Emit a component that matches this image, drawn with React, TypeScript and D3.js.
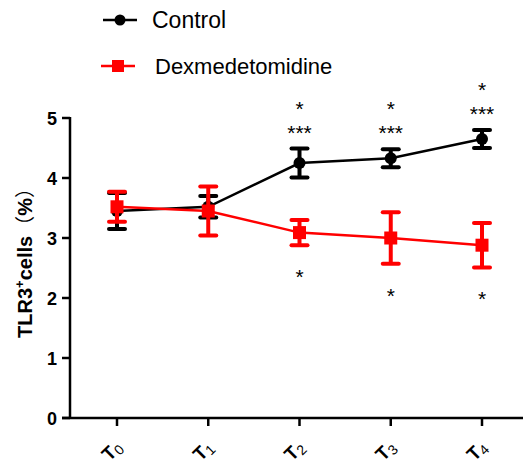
import React from "react";
import * as d3 from "d3";

const categories = ["0", "1", "2", "3", "4"];
const controlMean = [3.45, 3.52, 4.25, 4.33, 4.65];
const controlErr = [0.3, 0.18, 0.24, 0.15, 0.15];
const dexMean = [3.52, 3.45, 3.09, 3.0, 2.88];
const dexErr = [0.25, 0.41, 0.21, 0.43, 0.37];
const controlStars = ["", "", "*", "*", "*"];
const controlStars2 = ["", "", "***", "***", "***"];
const dexStars = ["", "", "*", "*", "*"];
const yTicks = [0, 1, 2, 3, 4, 5];

const W = 524;
const H = 464;

export default function App() {
  const x = d3.scalePoint<string>().domain(categories).range([117, 482]);
  const y = d3.scaleLinear().domain([0, 5]).range([418, 118]);
  const line = d3
    .line<number>()
    .x((_, i) => x(categories[i]) as number)
    .y((d) => y(d));
  const font = "Liberation Sans, Arial, sans-serif";

  const errBars = (means: number[], errs: number[], color: string) =>
    means.map((m, i) => {
      const cx = x(categories[i]) as number;
      const y1 = y(m + errs[i]);
      const y2 = y(m - errs[i]);
      return (
        <g key={i} stroke={color} strokeWidth={4}>
          <line x1={cx} x2={cx} y1={y1} y2={y2} />
          <line x1={cx - 8} x2={cx + 8} y1={y1} y2={y1} strokeLinecap="round" />
          <line x1={cx - 8} x2={cx + 8} y1={y2} y2={y2} strokeLinecap="round" />
        </g>
      );
    });

  return (
    <svg width={W} height={H} style={{ position: "absolute", left: 0, top: 0 }} fontFamily={font}>
      <rect width={W} height={H} fill="#fff" />
      {/* Legend */}
      <g>
        <line x1={103} x2={137} y1={20} y2={20} stroke="#000" strokeWidth={2.5} />
        <circle cx={120} cy={20} r={5.5} fill="#000" />
        <text x={152} y={28} fontSize={23}>Control</text>
        <line x1={101} x2={135} y1={66} y2={66} stroke="red" strokeWidth={2.5} />
        <rect x={112} y={60} width={12} height={12} fill="red" />
        <text x={155} y={74} fontSize={22}>Dexmedetomidine</text>
      </g>
      {/* Axes */}
      <line x1={70} x2={70} y1={117} y2={419} stroke="#000" strokeWidth={2.5} />
      <line x1={62} x2={523} y1={418} y2={418} stroke="#000" strokeWidth={2.5} />
      {yTicks.map((t) => (
        <g key={t}>
          <line x1={62} x2={70} y1={y(t)} y2={y(t)} stroke="#000" strokeWidth={2.5} />
          <text x={57} y={y(t) + 6.5} fontSize={18} fontWeight="bold" textAnchor="end">
            {t}
          </text>
        </g>
      ))}
      {categories.map((c) => {
        const cx = x(c) as number;
        return (
          <g key={c}>
            <line x1={cx} x2={cx} y1={418} y2={426} stroke="#000" strokeWidth={2.5} />
            <g transform={`translate(${cx - 5},${451}) rotate(-45)`}>
              <text x={0} y={6} fontSize={19} fontWeight="bold" textAnchor="middle">
                T<tspan fontSize={14} fontWeight="normal" dy={3}>{c}</tspan>
              </text>
            </g>
          </g>
        );
      })}
      <text
        transform="translate(32,258) rotate(-90)"
        fontSize={20}
        fontWeight="bold"
        textAnchor="middle"
      >
        TLR3<tspan fontSize={13} dy={-8}>+</tspan>
        <tspan dy={8}>cells</tspan>
        <tspan fontWeight="normal" fontFamily="Noto Sans CJK SC">（</tspan>
        <tspan>%</tspan>
        <tspan fontWeight="normal" fontFamily="Noto Sans CJK SC">）</tspan>
      </text>
      {/* Control series */}
      <path d={line(controlMean) ?? ""} fill="none" stroke="#000" strokeWidth={2.5} />
      {errBars(controlMean, controlErr, "#000")}
      {controlMean.map((m, i) => (
        <circle key={i} cx={x(categories[i]) as number} cy={y(m)} r={6} fill="#000" />
      ))}
      {/* Dex series */}
      <path d={line(dexMean) ?? ""} fill="none" stroke="red" strokeWidth={2.5} />
      {errBars(dexMean, dexErr, "red")}
      {dexMean.map((m, i) => (
        <rect key={i} x={(x(categories[i]) as number) - 6.5} y={y(m) - 6.5} width={13} height={13} fill="red" />
      ))}
      {/* Significance */}
      {categories.map((c, i) => {
        const cx = x(c) as number;
        const top = y(controlMean[i] + controlErr[i]);
        const bot = y(dexMean[i] - dexErr[i]);
        return (
          <g key={c} fontSize={21} textAnchor="middle">
            <text x={cx} y={top - 45 + 12}>{controlStars[i]}</text>
            <text x={cx} y={top - 21 + 12}>{controlStars2[i]}</text>
            <text x={cx} y={bot + 27 + 12}>{dexStars[i]}</text>
          </g>
        );
      })}
    </svg>
  );
}
